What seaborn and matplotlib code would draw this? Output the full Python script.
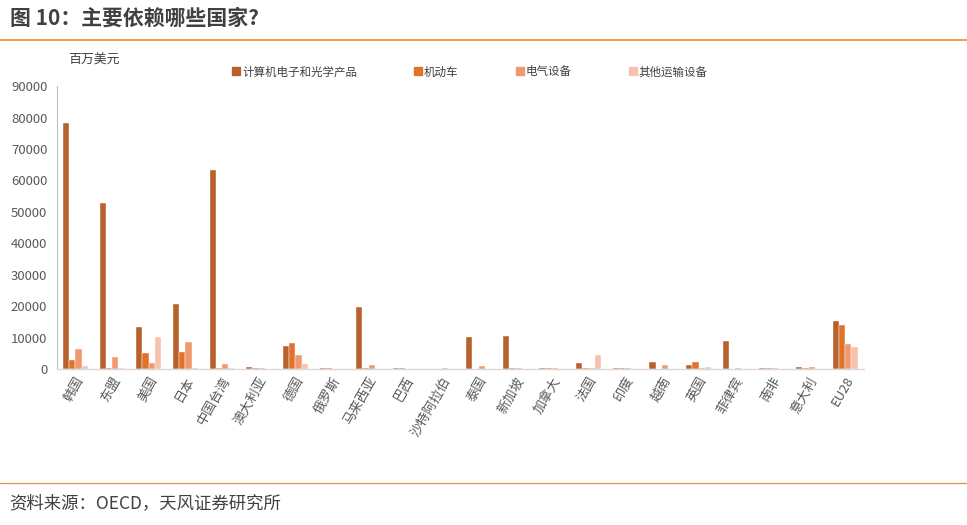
import numpy as np
import pandas as pd
import matplotlib
matplotlib.use('Agg')
import matplotlib.pyplot as plt
from matplotlib.lines import Line2D
import seaborn as sns

# 数据（单位：百万美元）
countries = ['韩国', '东盟', '美国', '日本', '中国台湾', '澳大利亚', '德国', '俄罗斯',
             '马来西亚', '巴西', '沙特阿拉伯', '泰国', '新加坡', '加拿大', '法国', '印度',
             '越南', '英国', '菲律宾', '南非', '意大利', 'EU28']
series_names = ['计算机电子和光学产品', '机动车', '电气设备', '其他运输设备']
computers = [78400, 52700, 13500, 20600, 63200, 600, 7300, 500, 19700, 200, 50,
             10300, 10500, 500, 1900, 200, 2400, 1400, 9000, 200, 600, 15400]
vehicles = [2850, 500, 5100, 5500, 200, 200, 8400, 200, 200, 200, 50,
            100, 200, 200, 500, 200, 100, 2200, 100, 200, 400, 14000]
electrical = [6300, 3700, 1900, 8750, 1500, 200, 4400, 100, 1200, 100, 200,
              850, 200, 200, 500, 400, 1250, 500, 500, 200, 600, 8100]
other_transport = [1050, 400, 10300, 500, 200, 100, 1500, 100, 100, 100, 50,
                   100, 100, 100, 4400, 100, 100, 600, 100, 100, 100, 6900]
colors = ['#B8612A', '#E0732C', '#F0996E', '#F6C2AE']
yticks = np.arange(0, 90001, 10000)

df = pd.DataFrame({'国家': countries * 4,
                   '值': computers + vehicles + electrical + other_transport,
                   '类别': sum([[s] * len(countries) for s in series_names], [])})

sns.set_style('white')
plt.rcParams['font.family'] = ['Noto Sans CJK SC', 'DejaVu Sans']

fig = plt.figure(figsize=(9.67, 5.25), dpi=100)
ax = fig.add_axes([0.059, 0.297, 0.834, 0.539])

sns.barplot(data=df, x='国家', y='值', hue='类别', palette=colors, width=0.68,
            saturation=1, dodge=True, ax=ax, legend=False,
            edgecolor='white', linewidth=0.3)

ax.set_ylim(0, 90000)
ax.set_xlim(-0.5, len(countries) - 0.5)
ax.set_yticks(yticks)
ax.set_yticklabels([str(v) for v in yticks], fontsize=9.5, color='#595959')
ax.set_xlabel('')
ax.set_ylabel('')
ax.set_xticks(range(len(countries)))
ax.set_xticklabels(countries, rotation=60, ha='right', rotation_mode='anchor',
                   fontsize=9.5, color='#595959')
ax.tick_params(axis='x', which='major', length=0, pad=4)
ax.set_xticks(np.arange(-0.5, len(countries), 1), minor=True)
ax.tick_params(axis='x', which='minor', length=4, color='#D9D9D9', width=0.8)
ax.tick_params(axis='y', length=4, color='#BFBFBF', width=0.8, pad=3)
for s in ['top', 'right']:
    ax.spines[s].set_visible(False)
ax.spines['left'].set_color('#BFBFBF')
ax.spines['bottom'].set_color('#D9D9D9')
ax.spines['left'].set_linewidth(0.8)
ax.spines['bottom'].set_linewidth(1.0)

# 图例
handles = [Line2D([], [], marker='s', linestyle='', markersize=6,
                  markerfacecolor=c, markeredgecolor=c) for c in colors]
fig.legend(handles, series_names, loc='center left', bbox_to_anchor=(0.229, 0.863),
           ncol=4, frameon=False, fontsize=8.3, handletextpad=0.1,
           columnspacing=4.9, labelcolor='#404040', handlelength=0.8)

fig.text(0.070, 0.886, '百万美元', fontsize=9.3, color='#404040', va='center')

# 标题与来源
fig.text(0.010, 0.965, '图 10：主要依赖哪些国家?', fontsize=15, fontweight='bold',
         color='#404040', va='center')
fig.add_artist(Line2D([0, 1], [0.924, 0.924], color='#F08A24', linewidth=1.2,
                      transform=fig.transFigure))
fig.add_artist(Line2D([0, 1], [0.080, 0.080], color='#D9924A', linewidth=0.9,
                      transform=fig.transFigure))
fig.text(0.010, 0.042, '资料来源：OECD，天风证券研究所', fontsize=12.5, color='#404040',
         va='center')

fig.savefig('out.png', dpi=100)
